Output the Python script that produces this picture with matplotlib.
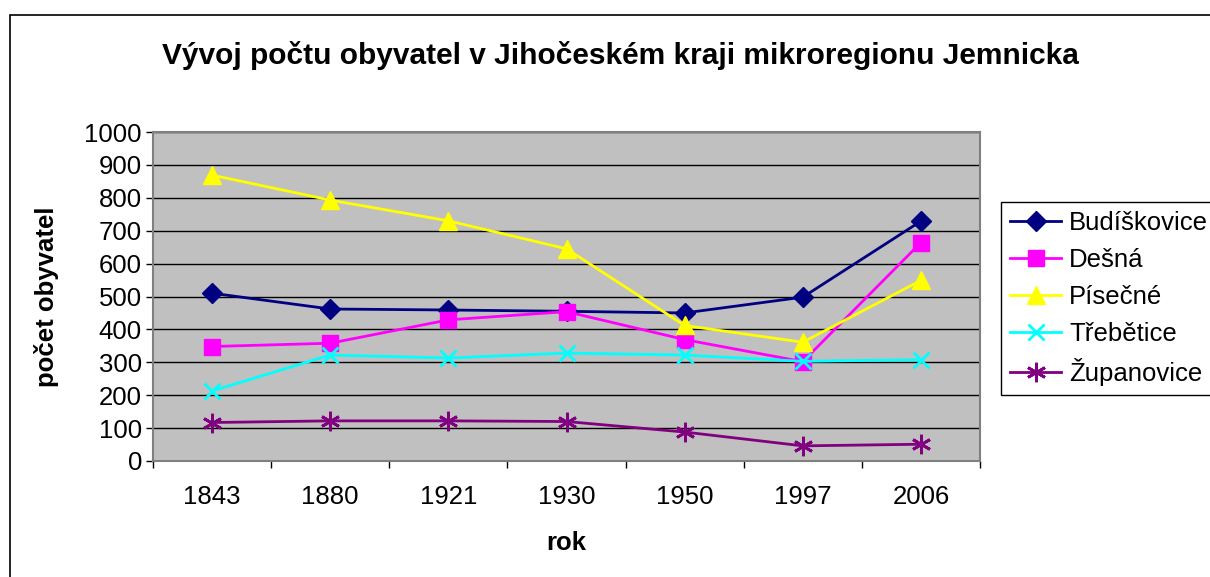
import matplotlib.pyplot as plt
from matplotlib.patches import Rectangle

# Data
years = ['1843', '1880', '1921', '1930', '1950', '1997', '2006']
budiskovice = [510, 462, 459, 455, 450, 498, 729]
desna = [348, 358, 429, 454, 369, 302, 664]
pisecne = [869, 793, 730, 645, 412, 361, 549]
trebetice = [213, 322, 313, 328, 322, 303, 308]
zupanovice = [117, 122, 122, 120, 88, 46, 51]

series = [
    ('Budíškovice', budiskovice, '#000080', 'D', 10),
    ('Dešná', desna, '#FF00FF', 's', 12),
    ('Písečné', pisecne, '#FFFF00', '^', 13),
    ('Třebětice', trebetice, '#00FFFF', 'x', 12),
    ('Županovice', zupanovice, '#800080', (6, 2, 0), 14),
]

plt.rcParams['font.family'] = ['Liberation Sans', 'DejaVu Sans']

fig = plt.figure(figsize=(12.1, 5.77), dpi=100)
ax = fig.add_axes([153 / 1210, 116 / 577, 827 / 1210, 329 / 577])
ax.set_facecolor('#C0C0C0')

x = list(range(len(years)))
handles = []
for name, vals, color, marker, ms in series:
    mew = 2 if marker in ('x', (6, 2, 0)) else 1
    h, = ax.plot(x, vals, color=color, lw=2, marker=marker, markersize=ms,
                 markeredgewidth=mew, markeredgecolor=color, label=name,
                 clip_on=False, zorder=3)
    handles.append(h)

ax.set_xlim(-0.5, len(years) - 0.5)
ax.set_ylim(0, 1000)
ax.set_yticks(range(0, 1001, 100))
ax.yaxis.grid(True, color='black', lw=1)
ax.set_axisbelow(True)

# category boundaries as major ticks, labels on minor ticks
ax.set_xticks([i - 0.5 for i in range(len(years) + 1)])
ax.set_xticklabels([])
ax.set_xticks(x, minor=True)
ax.set_xticklabels(years, minor=True)
ax.tick_params(axis='x', which='minor', length=0, pad=17, labelsize=18.5)
ax.tick_params(axis='x', which='major', length=5, width=1, color='black')
ax.tick_params(axis='y', length=5, width=1, color='black', labelsize=18.5, pad=3)

for side in ('top', 'right', 'left', 'bottom'):
    ax.spines[side].set_color('#808080')
    ax.spines[side].set_linewidth(1.5)

ax.set_xlabel('rok', fontsize=18.5, fontweight='bold', labelpad=16)
ax.set_ylabel('počet obyvatel', fontsize=18.5, fontweight='bold', labelpad=18)

fig.text(620 / 1210, 1 - 55 / 577, 'Vývoj počtu obyvatel v Jihočeském kraji mikroregionu Jemnicka',
         ha='center', va='center', fontsize=21.5, fontweight='bold')

leg = fig.legend(handles=handles, loc='upper left',
                 bbox_to_anchor=(1001 / 1210, 1 - 202 / 577),
                 fontsize=18.5, frameon=True, fancybox=False,
                 edgecolor='black', framealpha=1, borderaxespad=0,
                 handlelength=2.0, handletextpad=0.3, labelspacing=0.5,
                 borderpad=0.35)
leg.get_frame().set_linewidth(1)

# outer chart border (right and bottom edges fall outside the image)
fig.patches.append(Rectangle((10 / 1210, -0.05), 1.2, 1.05 - 15 / 577,
                             transform=fig.transFigure, fill=False,
                             edgecolor='black', lw=1.2))

fig.savefig('out.png', dpi=100)
